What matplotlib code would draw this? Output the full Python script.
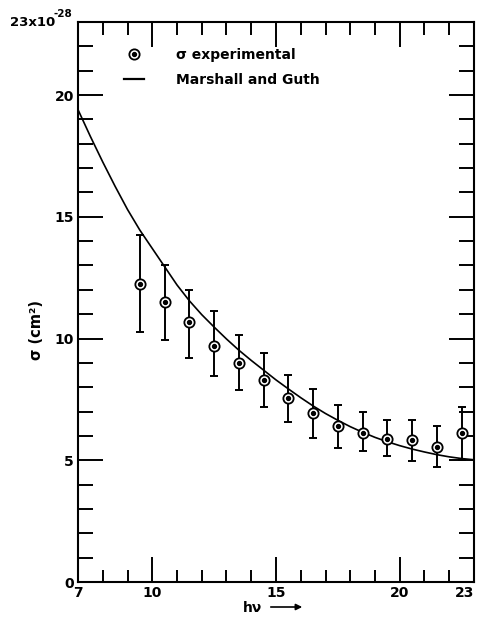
import matplotlib
matplotlib.use("Agg")
import matplotlib.pyplot as plt
from matplotlib.lines import Line2D
import numpy as np

# measured cross sections (units of 1e-28 cm^2)
h_nu = [9.5, 10.5, 11.5, 12.5, 13.5, 14.5, 15.5, 16.5, 17.5, 18.5, 19.5, 20.5, 21.5, 22.5]
sigma = [12.25, 11.5, 10.68, 9.69, 9.01, 8.30, 7.54, 6.95, 6.41, 6.13, 5.87, 5.82, 5.53, 6.13]
err_hi = [14.25, 13.03, 12.0, 11.12, 10.14, 9.39, 8.50, 7.91, 7.27, 6.97, 6.64, 6.64, 6.41, 7.20]
err_lo = [10.27, 9.94, 9.19, 8.46, 7.87, 7.20, 6.56, 5.90, 5.49, 5.38, 5.16, 4.97, 4.71, 5.0]

# Marshall and Guth curve
theory_x = [7.0, 7.5, 8.0, 8.5, 9.0, 9.5, 10.0, 10.5, 11.0, 11.5, 12.0, 12.5, 13.0, 13.5,
            14.0, 14.5, 15.0, 15.5, 16.0, 16.5, 17.0, 17.5, 18.0, 18.5, 19.0, 19.5,
            20.0, 20.5, 21.0, 21.5, 22.0, 22.5, 23.0]
theory_y = [19.4, 18.3, 17.25, 16.25, 15.3, 14.45, 13.7, 12.95, 12.2, 11.55, 10.98, 10.47,
            9.98, 9.52, 9.1, 8.7, 8.3, 7.93, 7.57, 7.23, 6.92, 6.64, 6.38, 6.15, 5.94,
            5.76, 5.6, 5.46, 5.34, 5.23, 5.14, 5.07, 5.02]

x_labels = [7, 10, 15, 20, 23]
y_labels = [0, 5, 10, 15, 20]

plt.rcParams['font.family'] = ['DejaVu Sans']
plt.rcParams['font.weight'] = 'bold'

fig = plt.figure(figsize=(4.8, 6.19), dpi=100)
ax = fig.add_axes([78 / 480, 1 - 582 / 619, 396 / 480, 560 / 619])

h_nu = np.array(h_nu)
sigma = np.array(sigma)
yerr = [sigma - np.array(err_lo), np.array(err_hi) - sigma]

ax.plot(theory_x, theory_y, color='black', lw=1.2, zorder=2)
ax.errorbar(h_nu, sigma, yerr=yerr, fmt='none', ecolor='black', elinewidth=1.4,
            capsize=2.6, capthick=1.4, zorder=3)
ax.plot(h_nu, sigma, 'o', ms=7.4, mfc='white', mec='black', mew=1.3, zorder=4)
ax.plot(h_nu, sigma, 'o', ms=2.8, color='black', zorder=5)

ax.set_xlim(7, 23)
ax.set_ylim(0, 23)
ax.set_xticks(x_labels)
ax.set_xticks(np.arange(7, 24, 1), minor=True)
ax.set_yticks(y_labels)
ax.set_yticks(np.arange(0, 24, 1), minor=True)
ax.tick_params(which='both', direction='in', top=True, right=True, width=1.4,
               labelsize=10, pad=3)
ax.tick_params(which='major', length=18)
ax.tick_params(which='minor', length=9)
ax.tick_params(axis='y', which='major', length=18)
ax.tick_params(axis='y', which='minor', length=10.5)
for sp in ax.spines.values():
    sp.set_linewidth(1.5)
# keep the "23" label inside the figure
ax.get_xticklabels()[-1].set_horizontalalignment('right')
ax.get_xticklabels()[-1].set_x(23)

# axis annotations
fig.text(10 / 480, 1 - 26 / 619, '23x10', fontsize=9.5, fontweight='bold', va='baseline')
fig.text(54 / 480, 1 - 17 / 619, '-28', fontsize=7.5, fontweight='bold', va='baseline')
ax.set_ylabel('σ (cm²)', fontsize=10.5, fontweight='bold')
ax.yaxis.set_label_coords(-0.085, 0.45)
fig.text(243 / 480, 1 - 612 / 619, 'hν', fontsize=10, fontweight='bold', va='baseline')
fig.add_artist(matplotlib.patches.FancyArrowPatch(
    (268 / 480, 1 - 607 / 619), (305 / 480, 1 - 607 / 619),
    transform=fig.transFigure, arrowstyle='-|>', mutation_scale=9, lw=1.2, color='black'))

ring = Line2D([], [], marker='o', ms=7.4, mfc='white', mec='black', mew=1.3, ls='none')
dot = Line2D([], [], marker='o', ms=2.8, color='black', ls='none')
curve = Line2D([], [], color='black', lw=1.6)
ax.legend([(ring, dot), curve], ['σ experimental', 'Marshall and Guth'],
          loc='upper left', bbox_to_anchor=(0.085, 0.976), frameon=False,
          handlelength=1.4, handletextpad=2.3, labelspacing=0.8,
          prop={'size': 10, 'weight': 'bold'})

fig.savefig('out.png', dpi=100, facecolor='white')
